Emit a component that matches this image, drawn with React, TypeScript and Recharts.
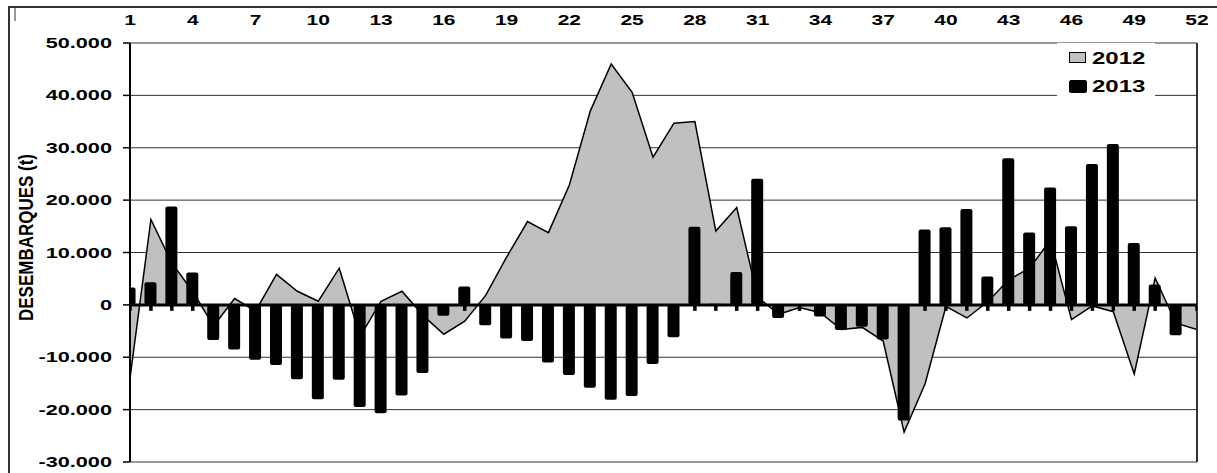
import React from 'react'
import {
  ComposedChart,
  Area,
  Bar,
  Scatter,
  XAxis,
  YAxis,
  CartesianGrid,
  ReferenceLine,
  Legend,
} from 'recharts'

const FONTE = '"Liberation Sans", Arial, sans-serif'

// semanas do ano
const semanas = [
  1, 2, 3, 4, 5, 6, 7, 8, 9, 10, 11, 12, 13, 14, 15, 16, 17, 18, 19, 20, 21, 22, 23, 24, 25, 26,
  27, 28, 29, 30, 31, 32, 33, 34, 35, 36, 37, 38, 39, 40, 41, 42, 43, 44, 45, 46, 47, 48, 49, 50,
  51, 52,
]

// desembarques (t) - 2012 (area)
const desembarques2012 = [
  -14000, 16300, 8000, 2500, -4000, 1200, -1200, 5800, 2600, 700, 7000, -6000, 700, 2600, -2000,
  -5600, -3100, 1800, 9100, 15900, 13800, 22900, 37000, 46000, 40600, 28200, 34700, 35000, 14100,
  18600, 1500, -1800, -500, -1500, -4700, -4300, -6900, -24300, -15100, -300, -2500, 600, 4800,
  7000, 12400, -2800, -200, -1300, -13200, 5100, -3500, -4700,
]

// desembarques (t) - 2013 (colunas)
const desembarques2013 = [
  3300, 4300, 18800, 6200, -6700, -8500, -10500, -11500, -14200, -18000, -14300, -19500, -20700,
  -17300, -13000, -2100, 3500, -3900, -6400, -6900, -11000, -13400, -15800, -18100, -17400,
  -11300, -6200, 14900, 200, 6300, 24100, -2500, -200, -2200, -4800, -4200, -6600, -22100, 14400,
  14800, 18300, 5400, 28000, 13800, 22400, 15000, 26900, 30700, 11800, 3900, -5800, 0,
]

const ticksSemana = [1, 4, 7, 10, 13, 16, 19, 22, 25, 28, 31, 34, 37, 40, 43, 46, 49, 52]
const ticksValor = [-30000, -20000, -10000, 0, 10000, 20000, 30000, 40000, 50000]

const SERIES = [
  { nome: '2012', cor: '#c0c0c0' },
  { nome: '2013', cor: '#000000' },
]

const dados = semanas.map((s, i) => ({
  semana: s,
  a2012: desembarques2012[i],
  a2013: desembarques2013[i],
}))

const marcas = semanas.map((s) => ({ semana: s, base: 0 }))

function formatarMilhar(v: number): string {
  const s = Math.abs(v)
    .toString()
    .replace(/\B(?=(\d{3})+(?!\d))/g, '.')
  return v < 0 ? '-' + s : s
}

const TickY = (props: any) => {
  const { x, y, payload } = props
  return (
    <g transform={`translate(${x},${y + 5}) scale(1.55,1)`}>
      <text textAnchor="end" fontSize={14} fontWeight="bold" fill="#000" fontFamily={FONTE}>
        {formatarMilhar(payload.value)}
      </text>
    </g>
  )
}

const TickX = (props: any) => {
  const { x, y, payload } = props
  return (
    <g transform={`translate(${x},${y}) scale(1.5,1)`}>
      <text textAnchor="middle" fontSize={14} fontWeight="bold" fill="#000" fontFamily={FONTE}>
        {payload.value}
      </text>
    </g>
  )
}

const TituloY = (props: any) => {
  const vb = props.viewBox || { x: 70, y: 43, width: 60, height: 419 }
  const cx = vb.x - 37
  const cy = vb.y + vb.height / 2 - 15
  return (
    <g transform={`translate(${cx},${cy}) rotate(-90) scale(1,1.24)`}>
      <text textAnchor="middle" fontSize={17} fontWeight="bold" fill="#000" fontFamily={FONTE}>
        DESEMBARQUES (t)
      </text>
    </g>
  )
}

const MarcaSemana = (props: any) => {
  const { cx, cy } = props
  return <rect x={cx - 1.75} y={cy} width={3.5} height={6} fill="#000" />
}

function LegendaAnos() {
  return (
    <div style={{ background: '#fff', width: 98, height: 54, position: 'relative', fontFamily: FONTE }}>
      {SERIES.map((s, i) => (
        <div key={s.nome}>
          <div
            style={{
              position: 'absolute',
              left: 12,
              top: i === 0 ? 9 : 37,
              width: i === 0 ? 17 : 18,
              height: i === 0 ? 11 : 13,
              background: s.cor,
              border: '1px solid #000',
              borderRadius: i === 0 ? 0 : 2,
              boxSizing: 'border-box',
            }}
          />
          <span
            style={{
              position: 'absolute',
              left: 35,
              top: i === 0 ? 7.5 : 36,
              fontSize: 16,
              lineHeight: '16px',
              fontWeight: 'bold',
              color: '#000',
              transform: 'scaleX(1.5)',
              transformOrigin: 'left',
              whiteSpace: 'nowrap',
            }}
          >
            {s.nome}
          </span>
        </div>
      ))}
    </div>
  )
}

export default function App() {
  return (
    <div style={{ position: 'absolute', left: 0, top: 0, width: 1217, height: 473, background: '#fff' }}>
      <div
        style={{
          position: 'absolute',
          left: 8,
          top: 6,
          width: 1209,
          height: 467,
          borderTop: '2px solid #333',
          borderLeft: '2px solid #333',
        }}
      />
      <div style={{ position: 'absolute', left: 14, top: 8, width: 2, height: 13, background: '#999' }} />
      <ComposedChart
        width={1217}
        height={473}
        data={dados}
        margin={{ top: 13, right: 20, bottom: 11, left: 70 }}
      >
        <CartesianGrid vertical={false} stroke="#333" strokeWidth={1} />
        <XAxis
          dataKey="semana"
          type="number"
          orientation="top"
          domain={[1, 52]}
          allowDataOverflow
          ticks={ticksSemana}
          interval={0}
          height={30}
          axisLine={false}
          tickLine={false}
          tickSize={0}
          tickMargin={18}
          tick={<TickX />}
        />
        <YAxis
          type="number"
          domain={[-30000, 50000]}
          ticks={ticksValor}
          interval={0}
          width={60}
          axisLine={{ stroke: '#000', strokeWidth: 2 }}
          tickLine={{ stroke: '#000', strokeWidth: 1.5 }}
          tickSize={7}
          tickMargin={11}
          tick={<TickY />}
          label={{ content: <TituloY /> }}
        />
        <Legend
          layout="vertical"
          align="center"
          verticalAlign="middle"
          wrapperStyle={{ left: 1057, top: 43, width: 98, height: 54 }}
          content={() => <LegendaAnos />}
        />
        <Area
          dataKey="a2012"
          name="2012"
          type="linear"
          baseValue={0}
          fill="#c0c0c0"
          fillOpacity={1}
          stroke="#000"
          strokeWidth={1.5}
          isAnimationActive={false}
        />
        <Bar
          dataKey="a2013"
          name="2013"
          fill="#000"
          barSize={12}
          radius={2}
          isAnimationActive={false}
        />
        <ReferenceLine x={52} stroke="#333" strokeWidth={2} />
        <ReferenceLine y={0} stroke="#000" strokeWidth={3} />
        <Scatter
          data={marcas}
          dataKey="base"
          legendType="none"
          shape={<MarcaSemana />}
          isAnimationActive={false}
        />
      </ComposedChart>
    </div>
  )
}
